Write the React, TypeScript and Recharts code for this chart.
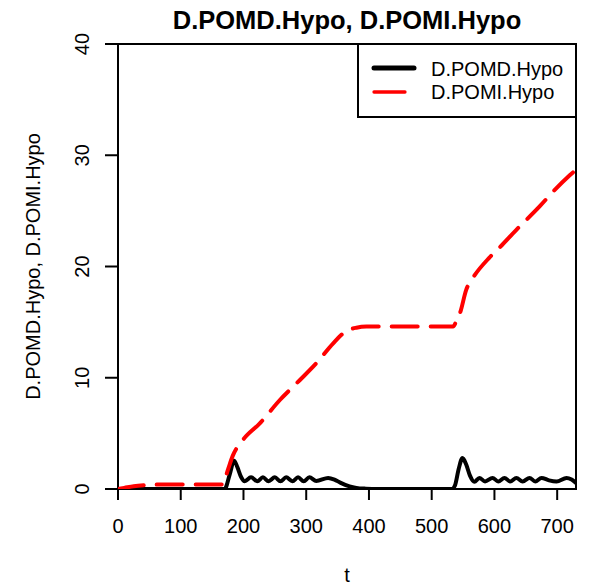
import React from 'react';
import { LineChart, Line, XAxis, YAxis, ReferenceArea, Legend, Customized } from 'recharts';

// ---- data ----
const chartTitle = 'D.POMD.Hypo, D.POMI.Hypo';
const xTitle = 't';
const yTitle = 'D.POMD.Hypo, D.POMI.Hypo';
const seriesNames = ['D.POMD.Hypo', 'D.POMI.Hypo'];
const xTicks = [0, 100, 200, 300, 400, 500, 600, 700];
const yTicks = [0, 10, 20, 30, 40];

const pomdT = [0, 170, 178, 185, 190, 196, 202, 212, 222, 231, 240, 250, 259, 268, 278, 287, 296, 305, 316, 335, 345, 355, 369, 380, 395, 415, 532, 537, 543, 549, 555, 561, 568, 576, 585, 597, 606, 616, 625, 635, 645, 656, 665, 675, 687, 699, 715, 723, 730];
const pomdV = [0, 0, 1.3, 2.55, 2.0, 1.1, 0.7, 1.05, 0.7, 1.05, 0.7, 1.05, 0.7, 1.05, 0.7, 1.05, 0.7, 1.05, 0.72, 1.0, 0.85, 0.55, 0.24, 0.1, 0.03, 0, 0, 0.3, 1.8, 2.78, 2.2, 1.2, 0.65, 1.0, 0.68, 1.0, 0.68, 1.0, 0.68, 1.0, 0.68, 1.0, 0.68, 1.0, 0.78, 0.68, 1.0, 0.85, 0.55];

const pomiT = [0, 10, 25, 45, 70, 167, 175, 183, 199, 226, 258, 290, 316, 343, 364, 380, 396, 444, 534, 540, 545, 555, 566, 592, 608, 635, 672, 693, 720, 730];
const pomiV = [0, 0.1, 0.25, 0.35, 0.4, 0.4, 1.7, 3.0, 4.4, 5.9, 8.0, 9.8, 11.3, 13.1, 14.2, 14.5, 14.6, 14.6, 14.6, 15.2, 15.8, 17.9, 19.0, 20.8, 21.7, 23.3, 25.4, 26.7, 28.2, 28.7];

const pomdData = pomdT.map((t, i) => ({ t, v: pomdV[i] }));
const pomiData = pomiT.map((t, i) => ({ t, v: pomiV[i] }));

const FONT = '"Liberation Sans", Arial, Helvetica, sans-serif';

const XTick = (props: any) => {
  const { x, payload } = props;
  return (
    <text x={x} y={533} textAnchor="middle" fontFamily={FONT} fontSize={20} fill="#000">
      {payload.value}
    </text>
  );
};

const YTick = (props: any) => {
  const { y, payload } = props;
  return (
    <text
      x={89}
      y={y}
      transform={`rotate(-90, 89, ${y})`}
      textAnchor="middle"
      fontFamily={FONT}
      fontSize={20}
      fill="#000"
    >
      {payload.value}
    </text>
  );
};

const Titles = () => (
  <g>
    <text x={347} y={29} textAnchor="middle" fontFamily={FONT} fontSize={25.5} fontWeight="bold" fill="#000">
      {chartTitle}
    </text>
    <text x={347} y={582} textAnchor="middle" fontFamily={FONT} fontSize={20} fill="#000">
      {xTitle}
    </text>
    <text
      x={39.5}
      y={266.5}
      transform="rotate(-90, 39.5, 266.5)"
      textAnchor="middle"
      fontFamily={FONT}
      fontSize={20}
      fill="#000"
    >
      {yTitle}
    </text>
  </g>
);

const LegendBox = (props: any) => {
  const payload = props.payload || [];
  const items = seriesNames.map((name, i) => {
    const p = payload.find((e: any) => e.value === name);
    return { name, color: p ? p.color : i === 0 ? '#000' : '#ff0000' };
  });
  return (
    <svg width={220} height={75} style={{ display: 'block' }}>
      <rect x={1} y={1} width={218} height={73} fill="#fff" stroke="#000" strokeWidth={2} />
      <line x1={17} x2={57} y1={25} y2={25} stroke={items[0].color} strokeWidth={5} strokeLinecap="round" />
      <line x1={17} x2={48} y1={49} y2={49} stroke={items[1].color} strokeWidth={3.3} strokeLinecap="round" />
      <text x={74} y={33} fontFamily={FONT} fontSize={20} fill="#000">{items[0].name}</text>
      <text x={74} y={56} fontFamily={FONT} fontSize={20} fill="#000">{items[1].name}</text>
    </svg>
  );
};

export default function App() {
  return (
    <div style={{ position: 'absolute', left: 0, top: 0, width: 590, height: 586, background: '#fff' }}>
      <LineChart width={590} height={586} margin={{ top: 44, right: 14, bottom: 0, left: 0 }}>
        <XAxis
          dataKey="t"
          type="number"
          domain={[0, 730]}
          ticks={xTicks}
          interval={0}
          allowDataOverflow
          height={97}
          tickSize={11}
          axisLine={false}
          tickLine={{ stroke: '#000', strokeWidth: 2 }}
          tick={XTick}
        />
        <YAxis
          type="number"
          domain={[0, 40]}
          ticks={yTicks}
          interval={0}
          allowDataOverflow
          width={118}
          tickSize={13}
          axisLine={false}
          tickLine={{ stroke: '#000', strokeWidth: 2 }}
          tick={YTick}
        />
        <ReferenceArea
          x1={0}
          x2={730}
          y1={0}
          y2={40}
          fill="none"
          fillOpacity={0}
          stroke="#000"
          strokeWidth={2}
          ifOverflow="visible"
        />
        <Line
          data={pomdData}
          dataKey="v"
          name={seriesNames[0]}
          type="monotone"
          stroke="#000000"
          strokeWidth={4}
          strokeLinejoin="round"
          strokeLinecap="round"
          dot={false}
          activeDot={false}
          isAnimationActive={false}
        />
        <Line
          data={pomiData}
          dataKey="v"
          name={seriesNames[1]}
          type="monotone"
          stroke="#ff0000"
          strokeWidth={4}
          strokeDasharray="26 13"
          strokeLinejoin="round"
          strokeLinecap="round"
          dot={false}
          activeDot={false}
          isAnimationActive={false}
        />
        <Legend
          layout="horizontal"
          verticalAlign="middle"
          align="center"
          wrapperStyle={{ position: 'absolute', left: 357, top: 43, width: 220, height: 75 }}
          content={LegendBox}
        />
        <Customized component={<Titles />} />
      </LineChart>
    </div>
  );
}
